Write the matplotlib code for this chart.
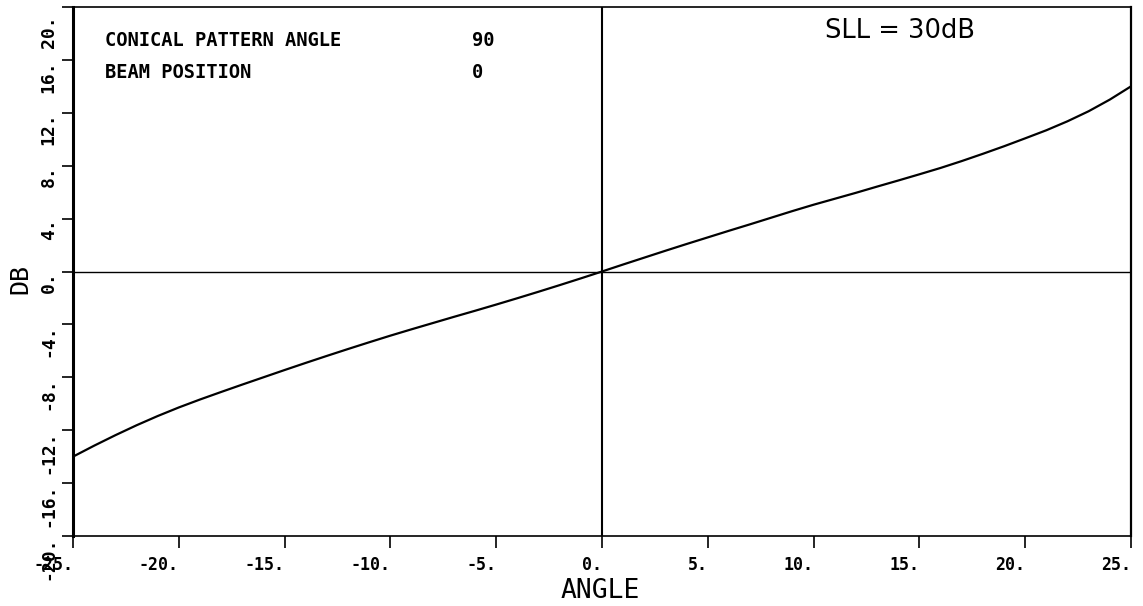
import matplotlib
matplotlib.use("Agg")
import matplotlib.pyplot as plt
from matplotlib.transforms import ScaledTranslation

# ---- data ----
angle = list(range(-25, 26))
db = [-14.0, -13.17, -12.38, -11.63, -10.93, -10.28, -9.68, -9.11, -8.55, -8.0,
      -7.45, -6.91, -6.38, -5.86, -5.35, -4.85, -4.37, -3.9, -3.43, -2.97,
      -2.5, -2.02, -1.53, -1.03, -0.52, 0.0,
      0.53, 1.05, 1.57, 2.08, 2.58, 3.08, 3.57, 4.07, 4.57, 5.05,
      5.5, 5.95, 6.42, 6.88, 7.35, 7.83, 8.35, 8.9, 9.47, 10.07,
      10.68, 11.36, 12.12, 13.0, 14.0]

xticks = [-25, -20, -15, -10, -5, 0, 5, 10, 15, 20, 25]
xtick_labels = ["-25.", "-20.", "-15.", "-10.", "-5.", "0.", "5.", "10.", "15.", "20.", "25."]
yticks = [-20, -16, -12, -8, -4, 0, 4, 8, 12, 16, 20]
ytick_labels = ["-20.", "-16.", "-12.", "-8.", "-4.", "0.", "4.", "8.", "12.", "16.", "20."]

info_labels = ["CONICAL PATTERN ANGLE", "BEAM POSITION"]
info_values = ["90", "0"]
title_text = "SLL = 30dB"

W, H = 1143, 606
fig = plt.figure(figsize=(W / 100, H / 100), dpi=100)
L, R, T, B = 73, 1131, 7, 536
ax = fig.add_axes([L / W, 1 - B / H, (R - L) / W, (B - T) / H])

mono = "DejaVu Sans Mono"

ax.plot(angle, db, color="black", lw=1.6, solid_joinstyle="round")
ax.axhline(0, color="black", lw=1.0)
ax.axvline(0, color="black", lw=1.5)

ax.set_xlim(-25, 25)
ax.set_ylim(-20, 20)

ax.spines["left"].set_linewidth(2.2)
ax.spines["right"].set_linewidth(1.6)
ax.spines["top"].set_linewidth(1.2)
ax.spines["bottom"].set_linewidth(1.2)

ax.set_xticks(xticks)
ax.set_xticklabels(xtick_labels, fontfamily=mono, fontsize=12, fontweight="bold")
ax.set_yticks(yticks)
ax.set_yticklabels(ytick_labels, fontfamily=mono, fontsize=13, fontweight="bold",
                   rotation=90)
ax.tick_params(axis="x", direction="out", length=8.5, width=1.2, pad=6)
ax.tick_params(axis="y", direction="out", length=8.0, width=1.2, pad=3)

for lbl in ax.get_xticklabels():
    lbl.set_ha("right")
for lbl in ax.get_yticklabels():
    lbl.set_va("top")
    if lbl.get_text() == "20.":
        lbl.set_transform(lbl.get_transform() + ScaledTranslation(0, -8 / 100, fig.dpi_scale_trans))

ax.set_xlabel("ANGLE", fontfamily=mono, fontsize=19)
ax.xaxis.set_label_coords((600 - L) / (R - L), (B - 598) / (B - T))
ax.xaxis.label.set_va("baseline")

ax.set_ylabel("DB", fontfamily=mono, fontsize=18)
ax.yaxis.set_label_coords((20 - L) / (R - L), (B - 279) / (B - T))
ax.yaxis.label.set_va("center")
ax.yaxis.label.set_ha("center")

ys = [46, 78]
for lab, val, yp in zip(info_labels, info_values, ys):
    ax.text((105 - L) / (R - L), (B - yp) / (B - T), lab, transform=ax.transAxes,
            fontfamily=mono, fontsize=13.5, fontweight="bold", va="baseline", ha="left")
    ax.text((472 - L) / (R - L), (B - yp) / (B - T), val, transform=ax.transAxes,
            fontfamily=mono, fontsize=13.5, fontweight="bold", va="baseline", ha="left")

ax.text((825 - L) / (R - L), (B - 38) / (B - T), title_text, transform=ax.transAxes,
        fontfamily="DejaVu Sans", fontsize=18.5, va="baseline", ha="left")

fig.savefig("out.png", dpi=100)
